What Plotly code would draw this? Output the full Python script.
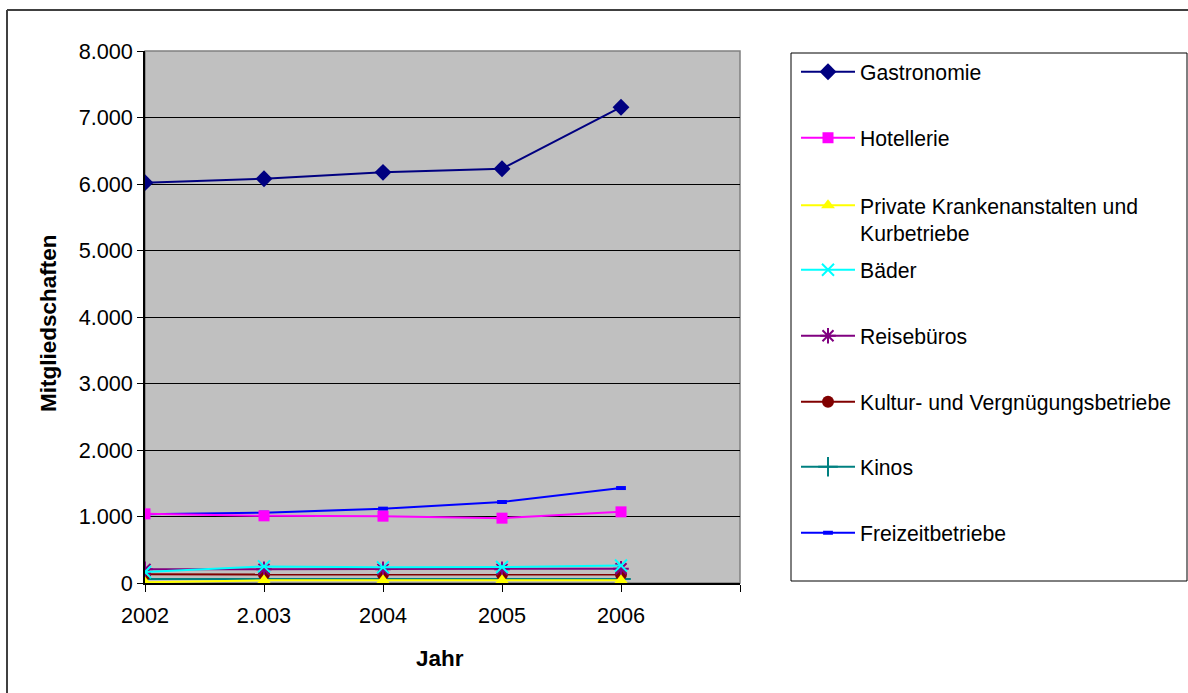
import plotly.graph_objects as go

# ---------------- data ----------------
years = [2002, 2003, 2004, 2005, 2006]
x_tick_vals = [2002, 2003, 2004, 2005, 2006, 2007]
x_tick_labels = ["2002", "2.003", "2004", "2005", "2006", ""]
y_tick_vals = [0, 1000, 2000, 3000, 4000, 5000, 6000, 7000, 8000]
y_tick_labels = ["0", "1.000", "2.000", "3.000", "4.000", "5.000", "6.000", "7.000", "8.000"]

series_names = [
    "Gastronomie",
    "Hotellerie",
    "Private Krankenanstalten und<br>Kurbetriebe",
    "Bäder",
    "Reisebüros",
    "Kultur- und Vergnügungsbetriebe",
    "Kinos",
    "Freizeitbetriebe",
]
gastronomie = [6020, 6080, 6175, 6230, 7155]
hotellerie = [1040, 1010, 1005, 975, 1070]
private_kranken = [10, 40, 40, 40, 40]
baeder = [165, 250, 235, 240, 262]
reisebueros = [205, 205, 205, 205, 215]
kultur = [130, 130, 130, 128, 128]
kinos = [62, 62, 62, 62, 62]
freizeit = [1035, 1058, 1118, 1218, 1428]

# ---------------- layout geometry (pixels) ----------------
W, H = 1188, 693
PL, PR, PT, PB = 145, 740, 51, 583  # plot area


def px(x):
    return (x - PL) / (PR - PL)


def py(y):
    return (PB - y) / (PB - PT)


FONT = "Liberation Sans, Arial, sans-serif"
FS = 21.7
FSL = 21.2
FST = 22.5

styles = [
    dict(color="#000080", symbol="diamond", size=13, lw=0),
    dict(color="#FF00FF", symbol="square", size=11, lw=0),
    dict(color="#FFFF00", symbol="triangle-up", size=12, lw=0),
    dict(color="#00FFFF", symbol="x-thin-open", size=12, lw=2),
    dict(color="#800080", symbol="asterisk-open", size=13, lw=2),
    dict(color="#800000", symbol="circle", size=12, lw=0),
    dict(color="#008080", symbol="cross-thin-open", size=14, lw=2),
    dict(color="#0000FF", symbol="line-ew-open", size=7, lw=4),
]
values = [gastronomie, hotellerie, private_kranken, baeder, reisebueros, kultur, kinos, freizeit]

# legend item centre y positions (pixels)
leg_y = [72, 138, 205, 270, 336, 402, 467, 533]

fig = go.Figure()
# draw from back to front (Gastronomie etc. on top of smaller series)
order = [6, 5, 4, 3, 2, 7, 1, 0]
for i in order:
    st = styles[i]
    lname = "legend" if i == 0 else f"legend{i + 1}"
    fig.add_trace(go.Scatter(
        x=years, y=values[i], name=series_names[i], mode="lines+markers",
        line=dict(color=st["color"], width=2),
        marker=dict(symbol=st["symbol"], size=st["size"], color=st["color"],
                    line=dict(width=st["lw"], color=st["color"])),
        legend=lname, showlegend=True,
    ))

legend_common = dict(
    bgcolor="rgba(0,0,0,0)", borderwidth=0, itemwidth=54,
    font=dict(family=FONT, size=FSL, color="#000000"),
    xanchor="left", tracegroupgap=0,
)
layout_legends = {}
LEGX = 796
for i in range(8):
    lname = "legend" if i == 0 else f"legend{i + 1}"
    d = dict(legend_common)
    if i == 2:
        d.update(x=px(LEGX), y=py(leg_y[i] - 20), yanchor="top", valign="top")
    else:
        d.update(x=px(LEGX), y=py(leg_y[i]), yanchor="middle")
    layout_legends[lname] = d

shapes = [
    # outer chart border: left and top edges (others lie outside the picture)
    dict(type="line", xref="paper", yref="paper",
         x0=px(7), x1=px(1188), y0=py(10), y1=py(10),
         line=dict(color="#404040", width=2)),
    dict(type="line", xref="paper", yref="paper",
         x0=px(7), x1=px(7), y0=py(10), y1=py(693),
         line=dict(color="#404040", width=2)),
    # plot area border (gray top/right)
    dict(type="rect", xref="paper", yref="paper", x0=0, x1=1, y0=0, y1=1,
         line=dict(color="#808080", width=1.5), fillcolor="rgba(0,0,0,0)", layer="below"),
    # legend box
    dict(type="rect", xref="paper", yref="paper",
         x0=px(791), x1=px(1187), y0=py(581), y1=py(53),
         line=dict(color="#000000", width=1), fillcolor="#FFFFFF", layer="below"),
]

annotations = [
    dict(text="<b>Jahr</b>", xref="paper", yref="paper", x=px(440), y=py(658),
         showarrow=False, xanchor="center", yanchor="middle",
         font=dict(family=FONT, size=FST, color="#000000")),
    dict(text="<b>Mitgliedschaften</b>", xref="paper", yref="paper", x=px(48), y=py(323),
         showarrow=False, xanchor="center", yanchor="middle", textangle=-90,
         font=dict(family=FONT, size=FST, color="#000000")),
]

fig.update_layout(
    width=W, height=H, autosize=False,
    margin=dict(l=PL, r=W - PR, t=PT, b=H - PB, pad=0),
    paper_bgcolor="#FFFFFF", plot_bgcolor="#C0C0C0",
    font=dict(family=FONT, size=FS, color="#000000"),
    shapes=shapes, annotations=annotations,
    **layout_legends,
)
fig.update_xaxes(
    range=[2002, 2007], tickmode="array", tickvals=x_tick_vals, ticktext=x_tick_labels,
    showgrid=False, zeroline=False, showline=True, linecolor="#000000", linewidth=2,
    ticks="outside", ticklen=7, tickcolor="#000000", tickwidth=1,
    tickfont=dict(family=FONT, size=FS, color="#000000"), ticklabelstandoff=5,
)
fig.update_yaxes(
    range=[0, 8000], tickmode="array", tickvals=y_tick_vals, ticktext=y_tick_labels,
    showgrid=True, gridcolor="#000000", gridwidth=1, zeroline=False,
    showline=True, linecolor="#000000", linewidth=1.5,
    ticks="outside", ticklen=6, tickcolor="#000000", tickwidth=1,
    tickfont=dict(family=FONT, size=FS, color="#000000"),
)

fig.write_html(
    "out.html",
    config={"displayModeBar": False},
    post_script="document.body.style.margin='0px';document.body.style.overflow='hidden';",
)
